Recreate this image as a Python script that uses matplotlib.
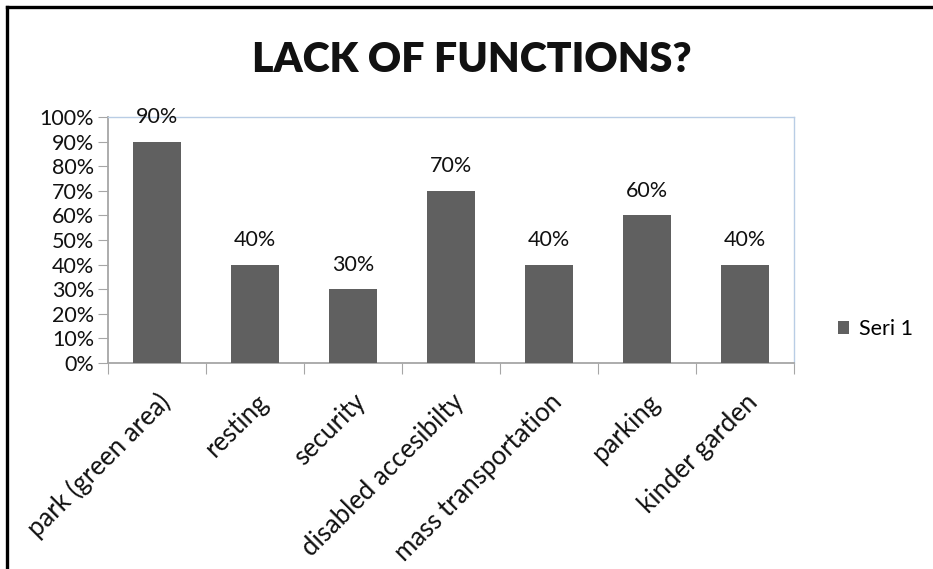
import matplotlib
matplotlib.use("Agg")
import matplotlib.pyplot as plt
from matplotlib.lines import Line2D
from matplotlib.patches import Patch
from matplotlib.ticker import FuncFormatter, MultipleLocator

categories = ["park (green area)", "resting", "security", "disabled accesibilty",
              "mass transportation", "parking", "kinder garden"]
values = [0.90, 0.40, 0.30, 0.70, 0.40, 0.60, 0.40]
series_name = "Seri 1"
title = "LACK OF FUNCTIONS?"

bar_color = "#606060"
axis_gray = "#a6a6a6"
frame_blue = "#b9cde5"
body_font = "Lato"
fs = 15.5

fig = plt.figure(figsize=(9.33, 5.69), dpi=100)
fig.patch.set_facecolor("white")
ax = fig.add_axes([108 / 933, 1 - 363 / 569, (794 - 108) / 933, (363 - 117) / 569])

x = list(range(len(categories)))
ax.bar(x, values, width=0.49, color=bar_color, zorder=3)
for xi, v in zip(x, values):
    ax.annotate(f"{v:.0%}", (xi, v), xytext=(0, 10.5), textcoords="offset points",
                ha="center", va="bottom", fontsize=fs, family=body_font, color="#111111")

ax.set_xlim(-0.5, len(categories) - 0.5)
ax.set_ylim(0, 1.0)
ax.yaxis.set_major_locator(MultipleLocator(0.1))
ax.yaxis.set_major_formatter(FuncFormatter(lambda v, p: f"{v * 100:.0f}%"))

# category ticks sit between bars, labels sit under bar centres
ax.set_xticks([i - 0.5 for i in range(len(categories) + 1)])
ax.set_xticklabels([])
ax.set_xticks(x, minor=True)
ax.set_xticklabels(categories, minor=True, rotation=45, ha="right",
                   rotation_mode="anchor", fontsize=18.5, family=body_font, color="#111111")
ax.tick_params(axis="x", which="major", length=8, color=axis_gray, direction="out")
ax.tick_params(axis="x", which="minor", length=0, pad=19)
ax.tick_params(axis="y", length=7, color=axis_gray, labelsize=fs, pad=3,
               labelcolor="#111111")
for lab in ax.get_yticklabels():
    lab.set_family(body_font)

for side in ("left", "bottom"):
    ax.spines[side].set_color(axis_gray)
    ax.spines[side].set_linewidth(1.3)
for side in ("top", "right"):
    ax.spines[side].set_color(frame_blue)
    ax.spines[side].set_linewidth(1.0)

fig.text(472 / 933, 1 - 60 / 569, title, ha="center", va="center", fontsize=29.5,
         fontweight="heavy", family=body_font, color="#111111")

handles = [Patch(facecolor=bar_color, edgecolor="none", label=series_name)]
fig.legend(handles=handles, loc="center left", bbox_to_anchor=(829 / 933, 1 - 329 / 569),
           frameon=False, prop={"family": body_font, "size": fs},
           handlelength=0.55, handleheight=0.55, handletextpad=0.45, borderaxespad=0)

# outer black frame (top and left edges)
fig.add_artist(Line2D([7.5 / 933, 1.0], [1 - 6.5 / 569, 1 - 6.5 / 569],
                      transform=fig.transFigure, color="black", linewidth=2.4))
fig.add_artist(Line2D([7.5 / 933, 7.5 / 933], [0, 1 - 6.5 / 569],
                      transform=fig.transFigure, color="black", linewidth=2.4))

fig.savefig("out.png", dpi=100, facecolor="white")
